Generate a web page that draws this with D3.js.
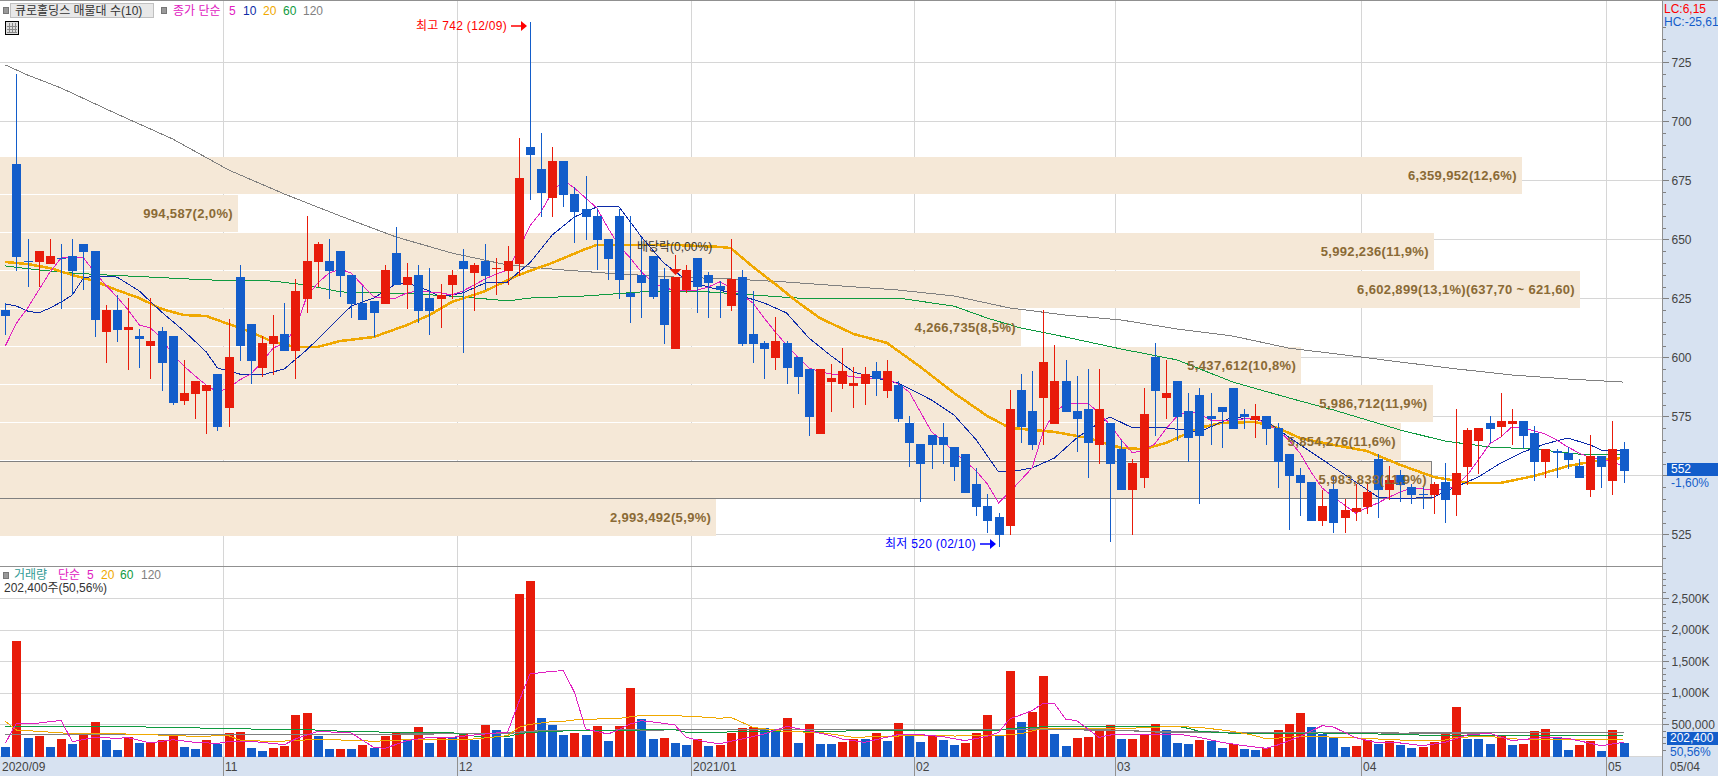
<!DOCTYPE html>
<html>
<head>
<meta charset="utf-8">
<title>큐로홀딩스</title>
<script src="https://cdn.jsdelivr.net/npm/d3@7"></script>
<style>
html, body { margin: 0; padding: 0; background: #fff; overflow: hidden; }
svg { display: block; }
text { font-family: "Liberation Sans", "Noto Sans CJK KR", sans-serif; font-size: 12px; dominant-baseline: central; }
</style>
</head>
<body>
<svg id="chart" width="1718" height="776"></svg>
<script>
// candles, index 0 = first session of 2020/09
var opens = [620.1,681.9,640.8,640.4,639.5,642.1,642.9,648,645,610.7,620.1,611.6,609,604.8,611.2,609,581.5,584.5,585.7,592.9,
  578.5,634,614.1,595.5,605.6,609.9,602.7,624.7,640.4,640.8,645,634.9,623,623.9,622.6,644.2,630.6,634.9,625.1,624.7,
  630.6,640.8,635.7,640.8,637.4,636.6,639.5,689.1,679.8,667.5,683.2,669.2,662.8,659.9,650.1,659.9,627.3,634.9,642.9,633.2,
  603.5,628.5,642.1,634.9,630.2,621.7,634,609.9,606.1,599.7,606.1,600.1,595.1,567.5,589.5,588.7,587.8,588.7,594.2,585.7,
  588.3,572.2,563.3,567.1,566.2,562,559,546.3,537,532.3,528.5,586.2,577.3,582.8,571.8,590,577.3,578.1,562.9,572.2,
  561.1,543.8,548.9,600.1,582.8,590,577.3,584,575.1,578.9,587,576,573.4,575.1,570.1,559,550.1,547.2,530.7,544.2,
  531.9,534.5,536.6,556.9,543.8,550.1,545.1,542.1,541.7,547.2,541.7,553.5,564.5,572.2,570.5,571.8,573,568,555.7,560.3,
  559.5,553.9,543.8,558.2,547.6,561.1];
var highs = [623,720,650.1,645,650.1,648,650.1,648,645,622.2,626.4,625.1,612,625.1,612.9,609,598.9,590,588.3,592.9,
  616.2,639.1,614.1,609,617.9,623,633.2,659.9,648.9,650.1,645,634.9,630.2,623.9,639.1,655.2,640,639.1,637.8,631.1,
  637,645.9,640,648,642.1,647.2,692.9,742.1,695,689.1,683.2,672.2,676.8,662.8,650.1,662.8,659.9,651,642.9,637.8,
  634,639.1,642.1,636.1,632.3,650.1,637,628.1,606.9,617.1,606.9,600.1,595.1,595.1,597.2,603.9,595.9,595.9,598,598.9,
  590,575.1,563.3,567.1,572.2,562,559,553.1,542.1,534,586.2,592.9,594.2,620.1,605.2,598.9,592.1,595.1,595.1,572.2,
  565,556.9,587,606.1,598.9,590,584.9,587,584.9,578.9,587,578.1,580.2,575.1,572.2,559,553.1,547.2,543.8,549.7,
  540,546.3,547.2,559,553.9,552.3,546.3,545.1,547.2,555.2,578.1,570.1,570.1,575.1,584.9,578.1,573,570.9,561.1,561.1,
  562,556.9,567.1,558.2,573,564.1];
var lows = [609.5,636.6,629.8,629.8,639.5,620.5,626.4,628.5,608.6,597.6,606.5,594.6,595.5,590.8,585.7,579.8,579.8,573.9,567.5,568.8,
  570.5,598.4,588.7,591.7,592.5,602.7,590.8,618.8,629.8,624.7,625.6,616.6,615.8,608.6,622.6,630.6,620.5,614.5,609.5,612.4,
  624.7,601.8,619.6,628.5,626.4,630.6,634.5,666.7,659.5,659.5,663.7,648.4,649.7,637,632.8,624.7,614.5,616.6,624.7,605.6,
  603.5,627.3,618.8,616.6,616.6,619.6,604.8,597.6,590.8,594.6,588.7,584.5,566.7,567.5,576.8,586.6,578.5,579.8,583.6,582.8,
  572.6,553.5,538.7,552.7,554.8,547.6,542.5,532.8,525.6,519.6,524.7,563.7,560.7,562.9,571.8,576.8,559.9,548.9,554.8,521.8,
  543.8,524.7,544.6,566.7,573.9,564.5,555.7,537.9,562.9,561.6,569.6,569.6,565.8,562.9,544.6,526.8,532.8,530.7,528.5,525.6,
  525.6,530.7,533.6,531.9,539.5,538.7,537.9,535.7,533.6,529.8,532.8,545.9,550.6,563.7,566.2,562.9,561.1,547.6,548.9,548.9,
  552.7,548.9,540.8,544.6,541.7,546.8];
var closes = [617.5,642.5,640.4,645,642.9,641.7,636.6,644.6,615.8,620.1,611.6,612.9,607.8,606.9,597.6,580.6,584.9,590,588.3,570.5,
  600.1,604.8,598.4,606.1,609,602.7,628.1,640.8,648,636.6,634.5,622.6,615.8,618.8,637,630.6,634,619.6,619.6,626.4,
  634.9,637.4,639.1,634.5,637.8,640.8,676,685.7,669.6,683.2,668.8,661.6,659.5,649.7,641.7,632.8,625.6,631.5,625.6,613.7,
  634,637,629.8,631.5,628.5,633.2,605.6,605.6,603.5,606.9,595.5,591.7,574.7,595.1,591.2,594.2,589.1,592.9,590.8,594.2,
  573.9,563.7,554.8,562.9,562.9,553.5,542.5,536.6,530.7,524.7,578.1,570.5,562.9,598,590,576.8,573.9,563.7,578.1,554.8,
  543.8,555.2,576,585.7,584.9,574.7,565.8,566.7,573.9,576.8,569.6,574.7,575.1,569.6,555.7,549.7,546.8,530.7,537,529.8,
  535.3,536.2,542.9,543.8,548,545.9,541.7,541.7,546.3,539.5,551,569.2,570.1,569.6,573,573,566.7,555.7,561.1,559.5,
  556.5,548.9,558.2,553.5,561.1,552];

// price moving averages as [session, price]
var ma5Price = [604.8,614.5,620.9,628.5,636.1,642.1,642.1,642.1,636.1,630.6,625.6,620.1,613.7,612.4,608.2,601,596.3,592.1,588.3,585.3,
  587,590.4,592.9,598,603.9,606.1,612,625.6,631.5,635.7,637.4,635.7,630.6,625.6,625.1,625.1,627.3,628.1,627.7,627.3,
  626.4,628.1,630.6,633.2,635.3,637,645.5,655.6,661.6,670,675.1,671.7,667.5,663.3,654.8,647.2,642.1,636.1,631.9,629.4,
  628.5,628.1,628.5,629.8,631.9,629.8,626.4,623,616.6,610.7,605.2,600.1,595.5,593.8,592.9,592.5,591.7,591.2,591.2,590.8,
  588.7,585.3,576.8,568.4,564.5,559.9,556.1,551.8,546.3,538.3,542.9,548,553.1,568.4,576.8,580.2,580.6,580.6,576.4,571.3,
  565,559.5,560.7,563.3,569.6,575.1,577.3,576,573.4,573,573.4,573.9,574.3,571.8,569.2,565,559.5,551.4,544.6,540.8,
  537.4,534,536.2,538.3,540.8,542.9,544.6,544.2,543.8,543.8,545.5,550.1,556.5,563.3,566.2,570.5,570.1,568.8,567.5,565,
  562,559.5,557.4,556.9,555.7,553.9];
var ma10Price = [[0,622.6],[1,621.7],[2,619.6],[3,618.8],[4,620.9],[5,623.4],[6,626.4],[7,633.6],[8,634.5],[10,634],[12,628.1],[14,619.2],[16,611.2],[18,602.3],[19,595.5],
  [21,592.9],[23,592.5],[25,595.1],[27,603.1],[29,612.4],[31,621.7],[33,625.1],[35,631.1],[36,631.5],[38,628.1],[39,625.6],[41,627.3],[43,631.5],[45,631.9],[46,636.1],[47,640],
  [49,651.8],[51,659.5],[53,663.7],[55,663.7],[57,651],[59,640],[61,632.8],[63,629.8],[66,626],[68,623],[70,618.8],[72,608.2],[74,600.6],[76,593.8],[78,591.2],[80,589.1],
  [83,581.9],[85,575.6],[87,565],[89,551.4],[90,551.4],[92,553.1],[94,557.3],[96,565.8],[98,572.2],[99,574.7],[101,570.1],[104,570.1],[107,568.4],[110,574.7],[113,573],
  [115,566.2],[117,559.9],[119,553.5],[121,547.2],[123,540.8],[125,540],[128,540.8],[130,545.1],[132,549.3],[134,555.2],[136,559.9],[138,563.3],[140,565.8],[142,562.9],[143,560.7],[145,560.3]];
var ma20Price = [[0,640.4],[2,639.5],[4,637.8],[6,634.9],[8,632.3],[10,628.5],[12,625.1],[14,620.5],[16,617.9],[18,617.5],[20,614.1],[22,610.7],[24,606.5],[26,604.4],[28,604.4],
  [30,606.9],[33,608.6],[36,613.7],[38,617.9],[40,623.4],[43,628.1],[46,634.9],[49,640],[52,645.9],[53,647.6],[57,647.6],[60,647.6],[64,646.8],[65,646.3],[67,638.3],[69,631],
  [71,623.4],[73,616.6],[76,609.9],[79,606.1],[82,595.9],[85,584.9],[88,575.1],[90,570.1],[94,568.4],[97,565.8],[100,561.6],[102,561.1],[104,563.7],[107,570.1],[109,572.2],
  [112,572.6],[114,570.1],[116,565.8],[119,562.9],[122,560.3],[125,554.4],[128,549.3],[131,546.8],[134,546.8],[137,549.7],[140,553.9],[143,556.5],[145,557.4]];
var ma60Price = [[0,638.7],[3,637],[6,635.7],[9,634.9],[13,634],[18,632.8],[24,632.3],[27,630.6],[30,627.7],[34,627.3],[37,626.8],[41,625.6],[45,623.9],[47,625.1],[52,626],[57,627.7],
  [63,627.7],[67,626.4],[71,625.1],[76,625.1],[80,625.1],[85,621.7],[88,616.6],[91,612.4],[95,608.6],[100,603.5],[105,598.9],[110,589.5],[115,582.8],[119,577.7],[125,569.2],
  [129,564.5],[133,562],[137,561.1],[141,559],[145,558.6]];
var ma120Price = [[0,723.9],[2,719.6],[5,714.1],[10,703.1],[15,692.5],[20,679.4],[25,669.2],[30,659.9],[35,651],[40,644.2],[45,639.1],[50,637],[55,635.3],[60,634],[65,633.2],[70,631.9],
  [75,630.2],[80,628.5],[85,626],[90,620.9],[95,617.9],[100,615.8],[105,612],[110,609],[115,603.9],[120,601],[125,598],[130,595.1],[135,592.5],[140,590.8],[145,589.5]];

// volume by session
var volumes = [142000,1820000,285000,316000,142000,269000,190000,332000,538000,253000,95000,301000,206000,222000,253000,316000,142000,111000,253000,190000,
  364000,380000,127000,79000,127000,158000,649000,680000,316000,108000,116000,111000,174000,127000,316000,364000,269000,459000,206000,305000,
  298000,348000,253000,490000,411000,285000,2563000,2769000,601000,490000,332000,364000,332000,475000,237000,475000,1076000,585000,269000,285000,
  206000,174000,269000,158000,174000,364000,443000,459000,443000,411000,601000,206000,506000,190000,188000,222000,269000,265000,364000,237000,
  522000,332000,222000,316000,253000,174000,206000,364000,649000,332000,1345000,538000,696000,1266000,348000,158000,285000,301000,396000,490000,
  269000,272000,348000,506000,411000,206000,190000,253000,237000,127000,190000,111000,95000,127000,411000,506000,680000,459000,348000,285000,
  142000,158000,253000,190000,237000,174000,127000,142000,222000,348000,775000,269000,265000,190000,316000,174000,190000,396000,427000,301000,
  95000,174000,237000,79000,411000,202400];

var ma5Vol = [[0,200000],[1,522000],[3,522000],[5,564000],[6,227000],[8,295000],[10,280000],[11,290000],[13,206000],[15,258000],[17,216000],[19,200000],[20,227000],[22,232000],[25,179000],
  [26,269000],[28,390000],[31,364000],[33,137000],[34,121000],[36,243000],[38,295000],[40,295000],[42,332000],[44,364000],[45,374000],[46,849000],[47,1297000],[49,1340000],[50,1350000],
  [51,1007000],[52,427000],[54,348000],[55,417000],[56,506000],[57,559000],[59,517000],[60,490000],[61,295000],[63,216000],[64,195000],[66,269000],[68,348000],[70,469000],[72,401000],
  [74,322000],[75,269000],[77,216000],[78,258000],[80,338000],[82,338000],[84,306000],[86,243000],[88,311000],[89,374000],[90,585000],[92,717000],[93,833000],[94,833000],[95,585000],
  [96,559000],[98,295000],[99,332000],[101,348000],[102,348000],[105,348000],[107,295000],[109,216000],[111,163000],[113,121000],[114,174000],[116,306000],[118,480000],[119,459000],
  [120,374000],[121,290000],[123,206000],[125,206000],[127,163000],[129,216000],[131,332000],[133,359000],[135,243000],[138,295000],[140,280000],[143,163000],[145,216000]];
var ma20Vol = [[0,548000],[1,411000],[3,390000],[5,364000],[8,359000],[12,343000],[17,311000],[20,322000],[21,253000],[24,227000],[28,264000],[32,243000],[33,232000],[36,258000],[42,269000],
  [45,322000],[46,454000],[47,501000],[49,543000],[50,548000],[51,570000],[53,585000],[55,596000],[57,643000],[60,638000],[63,612000],[64,596000],[65,612000],[67,454000],[70,385000],
  [73,374000],[76,295000],[79,311000],[83,332000],[85,316000],[89,322000],[91,353000],[93,438000],[98,438000],[101,438000],[102,454000],[105,464000],[107,454000],[110,390000],[112,322000],
  [113,269000],[116,311000],[120,295000],[123,269000],[125,253000],[129,253000],[130,295000],[133,311000],[135,269000],[145,264000]];
var ma60Vol = [[0,464000],[6,469000],[11,464000],[16,448000],[22,427000],[27,417000],[31,385000],[36,374000],[40,369000],[41,338000],[43,295000],[45,306000],[46,348000],[47,374000],[50,396000],
  [51,401000],[54,406000],[60,417000],[61,374000],[65,380000],[66,390000],[75,390000],[76,406000],[89,406000],[90,438000],[92,454000],[94,469000],[105,469000],[106,438000],[107,390000],
  [110,359000],[118,364000],[123,348000],[129,322000],[133,322000],[137,332000],[145,322000]];
var ma120Vol = [[0,338000],[33,338000],[37,348000],[41,359000],[45,359000],[47,390000],[50,401000],[51,401000],[60,417000],[75,422000],[85,417000],[90,417000],[93,427000],[101,401000],
  [102,385000],[110,374000],[122,374000],[125,359000],[130,364000],[134,369000],[145,369000]];

// 매물대 bins, top to bottom
var binEdges = [684.87,668.77,652.67,636.57,620.47,604.37,588.27,572.17,556.07,539.97,523.87];
var binVolumes = [6359952,994587,5992236,6602899,4266735,5437612,5986712,5854276,5983838,2993492];
var binPercents = ["12,6","2,0","11,9","13,1","8,5","10,8","11,9","11,6","11,9","5,9"];
var currentBin = 8;
var maxBinExtra = "(637,70 ~ 621,60)";

var priceTicks = [525,550,575,600,625,650,675,700,725];
// the 550 label sits under the current price tag in the reference
var priceTickLabels = ["525","","575","600","625","650","675","700","725"];
var volTicks = [500000,1000000,1500000,2000000,2500000];
var volTickLabels = ["500,000","1,000K","1,500K","2,000K","2,500K"];
var monthStarts = [20,41,62,82,100,122,144];
var monthLabels = ["11","12","2021/01","02","03","04","05"];

var colors = { red: "#e81b0a", blue: "#135dca", ma5: "#e020c0", ma10: "#0c2aa8", ma20: "#f0a800", ma60: "#0f9a40", ma120: "#808080", panel: "#d7e2f1", grid: "#d6d6d6", band: "#f5e8d7", brown: "#8a6a35" };

var svg = d3.select("#chart"),
    width = 1718,
    height = 776,
    plotRight = 1662,
    priceBottom = 566,
    volBottom = 757;

var x = d3.scaleLinear().domain([0, 145]).range([5.33, 1623.5]);
var y = d3.scaleLinear().domain([525, 725]).range([534.3, 62.3]);
var yVol = d3.scaleLinear().domain([0, 2500000]).range([756, 598]);
var binWidth = d3.scaleLinear().domain([0, 6602899]).range([0, 1580]);

function px(i) { return Math.round(x(i)); }
function py(v) { return Math.round(y(v)); }

// background and side panels
svg.append("rect").attr("width", width).attr("height", height).attr("fill", "#fff");
svg.append("rect").attr("x", plotRight).attr("y", 1).attr("width", width - plotRight).attr("height", height).attr("fill", colors.panel);
svg.append("rect").attr("x", 0).attr("y", volBottom).attr("width", width).attr("height", height - volBottom).attr("fill", colors.panel);

// grid
var grid = svg.append("g").attr("shape-rendering", "crispEdges").attr("stroke", colors.grid);
grid.selectAll(".hp").data(priceTicks).enter().append("line")
    .attr("x1", 0).attr("x2", plotRight).attr("y1", function(d) { return py(d) + 0.5; }).attr("y2", function(d) { return py(d) + 0.5; });
grid.selectAll(".hv").data(volTicks).enter().append("line")
    .attr("x1", 0).attr("x2", plotRight).attr("y1", function(d) { return Math.round(yVol(d)) + 0.5; }).attr("y2", function(d) { return Math.round(yVol(d)) + 0.5; });
grid.selectAll(".v").data(monthStarts).enter().append("line")
    .attr("x1", function(d) { return px(d) - 5.5; }).attr("x2", function(d) { return px(d) - 5.5; })
    .attr("y1", 1).attr("y2", volBottom);
grid.append("line").attr("x1", 0).attr("x2", plotRight).attr("y1", 756.5).attr("y2", 756.5);

// 매물대 bands
var bands = svg.append("g").attr("shape-rendering", "crispEdges");
bands.selectAll("rect").data(binVolumes).enter().append("rect")
    .attr("x", -2)
    .attr("y", function(d, i) { return py(binEdges[i]); })
    .attr("width", function(d) { return binWidth(d) + 2; })
    .attr("height", function(d, i) { return py(binEdges[i + 1]) - py(binEdges[i]) - 1; })
    .attr("fill", colors.band)
    .attr("stroke", function(d, i) { return i == currentBin ? "#808080" : "none"; });

function drawLine(parent, scaleY, data, color, w) {
    var line = d3.line()
        .x(function(d) { return x(d[0]); })
        .y(function(d) { return scaleY(d[1]); });
    parent.append("path").attr("d", line(data)).attr("fill", "none")
        .attr("stroke", color).attr("stroke-width", w).attr("shape-rendering", "crispEdges");
}

var priceLines = svg.append("g");
drawLine(priceLines, y, ma120Price, colors.ma120, 1);
drawLine(priceLines, y, ma60Price, colors.ma60, 1);
drawLine(priceLines, y, ma20Price, colors.ma20, 2.5);
drawLine(priceLines, y, ma10Price, colors.ma10, 1);
drawLine(priceLines, y, ma5Price.map(function(v, i) { return [i, v]; }), colors.ma5, 1);

// candles
var candles = svg.append("g").attr("shape-rendering", "crispEdges");
var candle = candles.selectAll("g").data(closes).enter().append("g")
    .attr("fill", function(d, i) { return d >= opens[i] ? colors.red : colors.blue; });
candle.append("rect")
    .attr("x", function(d, i) { return px(i); })
    .attr("width", 1)
    .attr("y", function(d, i) { return py(highs[i]); })
    .attr("height", function(d, i) { return Math.max(1, py(lows[i]) - py(highs[i])); });
candle.append("rect")
    .attr("x", function(d, i) { return px(i) - 4; })
    .attr("width", 9)
    .attr("y", function(d, i) { return py(Math.max(d, opens[i])); })
    .attr("height", function(d, i) { return Math.max(1, py(Math.min(d, opens[i])) - py(Math.max(d, opens[i]))); });

// band labels go over the candles
svg.append("g").selectAll("text").data(binVolumes).enter().append("text")
    .attr("x", function(d) { return binWidth(d) - 5; })
    .attr("y", function(d, i) { return (py(binEdges[i]) + py(binEdges[i + 1])) / 2 - 0.5; })
    .attr("text-anchor", "end")
    .attr("fill", colors.brown)
    .style("font-size", "13px")
    .style("font-weight", "bold")
    .style("letter-spacing", "0.35px")
    .text(function(d, i) {
        return d3.format(",")(d) + "(" + binPercents[i] + "%)" + (d == d3.max(binVolumes) ? maxBinExtra : "");
    });

// high and low markers
var highIdx = d3.range(highs.length).sort(function(a, b) { return highs[b] - highs[a]; })[0];
var lowIdx = d3.range(lows.length).sort(function(a, b) { return lows[a] - lows[b]; })[0];
function marker(idx, price, label, color, textX) {
    var ay = py(price) + (color == "#ff0000" ? 4 : -3);
    var ax = px(idx);
    svg.append("text").attr("x", textX).attr("y", ay).attr("fill", color).style("letter-spacing", "0.3px").text(label);
    svg.append("path").attr("d", d3.line()([[ax - 19, ay], [ax - 4, ay]])).attr("stroke", color).attr("stroke-width", 1.5).attr("fill", "none");
    svg.append("path").attr("d", d3.line()([[ax - 9, ay - 5], [ax - 3, ay], [ax - 9, ay + 5]]) + "Z").attr("fill", color);
}
marker(highIdx, highs[highIdx], "최고 742 (12/09)", "#ff0000", 416);
marker(lowIdx, lows[lowIdx], "최저 520 (02/10)", "#0000ff", 885);

// 배당락 marker
var exIdx = 60;
var exTop = py(opens[exIdx] < closes[exIdx] ? closes[exIdx] : opens[exIdx]);
svg.append("rect").attr("x", px(exIdx)).attr("width", 1).attr("y", exTop - 22).attr("height", 16).attr("fill", colors.red).attr("shape-rendering", "crispEdges");
svg.append("path").attr("d", d3.line()([[px(exIdx) - 5.5, exTop - 8], [px(exIdx) + 6.5, exTop - 8], [px(exIdx) + 0.5, exTop - 2]]) + "Z").attr("fill", colors.red);
svg.append("text").attr("x", 637).attr("y", 247).attr("fill", "#333").text("배당락(0,00%)");

// volume pane
svg.append("g").attr("shape-rendering", "crispEdges").selectAll("rect").data(volumes).enter().append("rect")
    .attr("x", function(d, i) { return px(i) - 4; })
    .attr("width", 9)
    .attr("y", function(d) { return Math.round(yVol(d)); })
    .attr("height", function(d) { return 757 - Math.round(yVol(d)); })
    .attr("fill", function(d, i) { return i > 0 && d > volumes[i - 1] ? colors.red : colors.blue; });
var volLines = svg.append("g");
drawLine(volLines, yVol, ma120Vol, colors.ma120, 1.5);
drawLine(volLines, yVol, ma60Vol, colors.ma60, 1);
drawLine(volLines, yVol, ma20Vol, colors.ma20, 1);
drawLine(volLines, yVol, ma5Vol, colors.ma5, 1);

// pane borders
var borders = svg.append("g").attr("shape-rendering", "crispEdges").attr("stroke", "#909090");
borders.append("line").attr("x1", 0).attr("x2", width).attr("y1", 0.5).attr("y2", 0.5);
borders.append("line").attr("x1", 0).attr("x2", plotRight).attr("y1", priceBottom + 0.5).attr("y2", priceBottom + 0.5);
borders.append("line").attr("x1", plotRight + 0.5).attr("x2", plotRight + 0.5).attr("y1", 0).attr("y2", height);

// side axes
function sideAxis(scale, major, minor, labels) {
    var g = svg.append("g").attr("transform", "translate(" + (plotRight + 0.5) + ",0)").attr("shape-rendering", "crispEdges");
    g.append("g").call(d3.axisRight(scale).tickValues(minor).tickSize(3).tickFormat(""));
    g.append("g").call(d3.axisRight(scale).tickValues(major).tickSize(6).tickPadding(3).tickFormat(function(d, i) { return labels[i]; }));
    g.selectAll(".domain").remove();
    g.selectAll("line").attr("stroke", "#808080");
    g.selectAll("text").attr("fill", "#444").attr("dy", null).style("font-size", "12px").style("font-family", null);
}
sideAxis(y, priceTicks, d3.range(515, 741, 5), priceTickLabels);
sideAxis(yVol, volTicks, d3.range(100000, 2900001, 100000), volTickLabels);

// current value tags
var lastClose = closes[closes.length - 1];
svg.append("rect").attr("x", 1667).attr("y", py(lastClose) - 8).attr("width", 51).attr("height", 13).attr("fill", colors.blue);
svg.append("text").attr("x", 1671).attr("y", py(lastClose) - 2).attr("fill", "#fff").text(lastClose);
svg.append("text").attr("x", 1671).attr("y", py(lastClose) + 12).attr("fill", colors.blue).text("-1,60%");

var lastVol = volumes[volumes.length - 1];
svg.append("rect").attr("x", 1667).attr("y", 732).attr("width", 51).attr("height", 13).attr("fill", colors.blue);
svg.append("text").attr("x", 1670).attr("y", 738).attr("fill", "#fff").text(d3.format(",")(lastVol));
svg.append("text").attr("x", 1670).attr("y", 752).attr("fill", colors.blue).text("50,56%");

svg.append("text").attr("x", 1664).attr("y", 9).attr("fill", "#ff0000").text("LC:6,15");
svg.append("text").attr("x", 1664).attr("y", 22).attr("fill", colors.blue).text("HC:-25,61");

// date strip
var dates = svg.append("g");
dates.append("text").attr("x", 2).attr("y", 767).attr("fill", "#444").text("2020/09");
dates.selectAll(".m").data(monthStarts).enter().append("text")
    .attr("x", function(d) { return px(d) - 4; })
    .attr("y", 767).attr("fill", "#444")
    .text(function(d, i) { return monthLabels[i]; });
dates.selectAll("line").data(monthStarts).enter().append("line")
    .attr("x1", function(d) { return px(d) - 5.5; }).attr("x2", function(d) { return px(d) - 5.5; })
    .attr("y1", volBottom).attr("y2", height).attr("stroke", "#909090").attr("shape-rendering", "crispEdges");
dates.append("text").attr("x", 1670).attr("y", 767).attr("fill", "#444").text("05/04");

// legends
function legendIcon(lx, ly) {
    svg.append("rect").attr("x", lx).attr("y", ly).attr("width", 5).attr("height", 6)
        .attr("fill", "#999").attr("stroke", "#777").attr("shape-rendering", "crispEdges");
}
function legendRow(items, ly) {
    svg.append("g").selectAll("text").data(items).enter().append("text")
        .attr("x", function(d) { return d[0]; }).attr("y", ly)
        .attr("fill", function(d) { return d[2]; })
        .text(function(d) { return d[1]; });
}
legendIcon(3, 7);
svg.append("rect").attr("x", 10.5).attr("y", 3.5).attr("width", 143).attr("height", 14).attr("fill", "#e8e8e8").attr("stroke", "#c0c0c0").attr("shape-rendering", "crispEdges");
svg.append("text").attr("x", 15).attr("y", 11).attr("fill", "#333").text("큐로홀딩스 매물대 수(10)");
legendIcon(161, 7);
legendRow([[173, "종가 단순", colors.ma5], [229, "5", colors.ma5], [243, "10", colors.ma10], [263, "20", colors.ma20], [283, "60", colors.ma60], [303, "120", colors.ma120]], 11);

// small table icon under the title
var icon = svg.append("g").attr("shape-rendering", "crispEdges");
icon.append("rect").attr("x", 5.5).attr("y", 21.5).attr("width", 13).attr("height", 13).attr("fill", "#ddd").attr("stroke", "#000");
d3.range(1, 4).forEach(function(k) {
    icon.append("line").attr("x1", 6 + k * 3).attr("x2", 6 + k * 3).attr("y1", 23).attr("y2", 33).attr("stroke", "#888");
    icon.append("line").attr("x1", 7).attr("x2", 17).attr("y1", 23 + k * 3).attr("y2", 23 + k * 3).attr("stroke", "#888");
});

legendIcon(3, 572);
legendRow([[14, "거래량", "#2f9a95"], [58, "단순", colors.ma5], [87, "5", colors.ma5], [101, "20", colors.ma20], [120, "60", colors.ma60], [141, "120", colors.ma120]], 575);
svg.append("text").attr("x", 4).attr("y", 588).attr("fill", "#333").text("202,400주(50,56%)");
</script>
</body>
</html>
